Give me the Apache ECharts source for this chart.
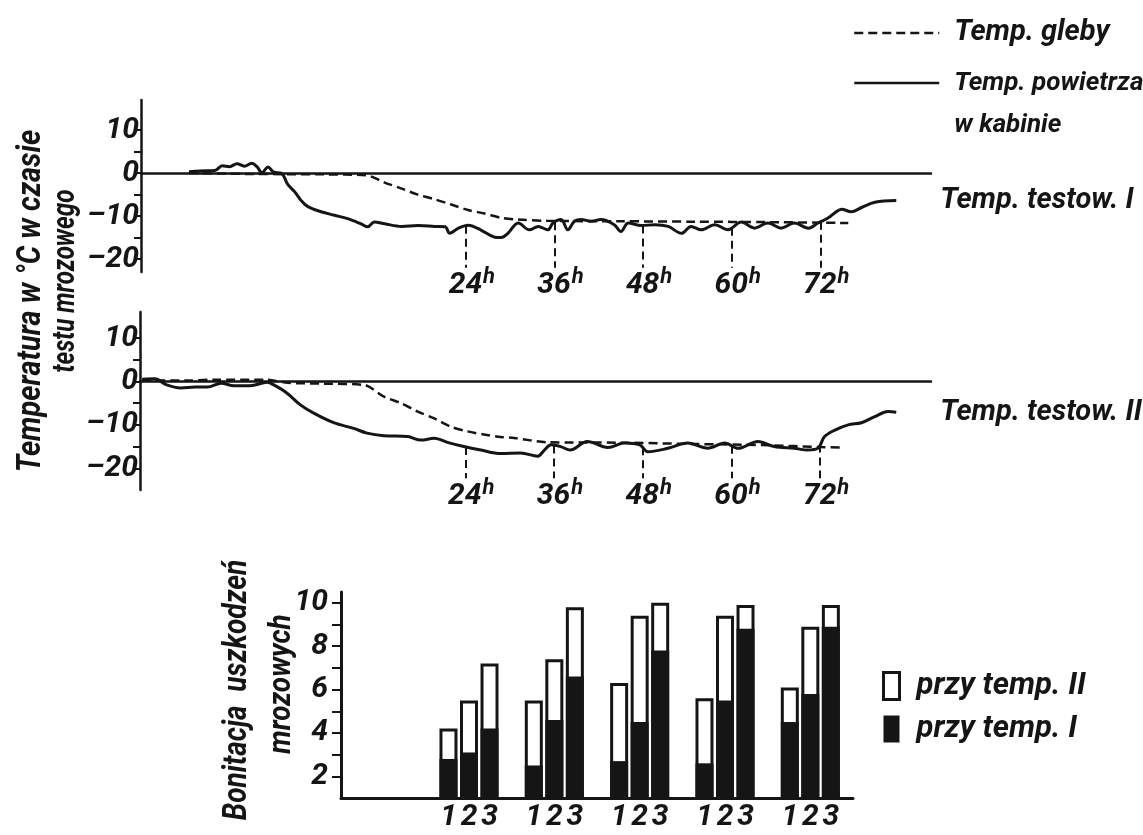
<!DOCTYPE html>
<html>
<head>
<meta charset="utf-8">
<script src="https://cdn.jsdelivr.net/npm/echarts@6/dist/echarts.min.js"></script>
<style>
  html, body { margin: 0; background: #fff; }
  #main { width: 1143px; height: 835px; }
</style>
</head>
<body>
<div id="main"></div>
<script>
var F = "Roboto, 'Liberation Sans', sans-serif";
var INK = '#151515';

// test I: [godzina, temp °C]
var airI = [[-13.5, 0.3], [-12, 0.5], [-10, 0.6], [-9, 1.7], [-8, 1.5], [-7, 2.2], [-6, 1.6], [-5, 2.3],
  [-4.3, 1.5], [-3.6, 0.1], [-2.8, 1.4], [-2, 0.2], [-1, 0], [-0.1, -2.7], [0.8, -4.3], [1.7, -6.4],
  [2.6, -7.8], [4.4, -9.0], [6.2, -9.8], [8.0, -10.6], [9.8, -11.8], [10.7, -12.5], [11.6, -11.4],
  [13.0, -11.8], [15.3, -12.4], [17.5, -12.2], [19.8, -12.4], [21.2, -12.5], [21.8, -14.0], [22.9, -12.9],
  [24.3, -12.1], [26.1, -13.3], [27.9, -14.9], [28.8, -15.0], [29.7, -14.0], [31.1, -11.6], [32.6, -13.2],
  [33.8, -12.4], [35.1, -13.2], [35.8, -11.6], [36.9, -10.8], [37.8, -13.2], [38.7, -11.2], [39.6, -10.8],
  [41, -11.2], [42.3, -10.8], [44.1, -12], [45.0, -13.6], [46.0, -11.6], [47.8, -12.2], [49.6, -12],
  [51.4, -12.4], [53.2, -14], [54.5, -12.4], [55.9, -13.2], [57.7, -12], [59.5, -13.2], [61.3, -11.4],
  [63.1, -12.8], [64.9, -11.6], [66.7, -12.8], [68.5, -11.6], [70.4, -12.8], [71.7, -11.6], [73.1, -10.4],
  [74.0, -9.2], [74.9, -8.4], [76.2, -9], [77.6, -8], [79.4, -6.8], [82.3, -6.4]];
var soilI = [[-13.5, 0], [-5, -0.2], [5, -0.3], [10.5, -0.5], [13.0, -2.2], [15.3, -3.6], [17.5, -5.0],
  [19.8, -6.1], [22.0, -7.3], [24.3, -8.6], [26.5, -9.4], [28.8, -10.4], [31, -10.8], [35, -11.1],
  [45, -11.2], [55, -11.3], [65, -11.4], [75.8, -11.6]];

// test II
var airII = [[-19.7, 0.5], [-18, 0.6], [-16.4, -0.8], [-14.5, -1.5], [-12.5, -1.3], [-10.9, -1.3], [-9, -0.4],
  [-7.3, -1.0], [-5.1, -1.0], [-2.8, -0.2], [-1.9, -0.8], [-0.1, -2.7], [1.7, -5.4], [3.5, -7.3], [6.2, -9.5],
  [8.9, -10.8], [10.7, -11.9], [13.0, -12.5], [16.2, -12.7], [18.0, -13.5], [19.8, -13.1], [21.7, -14.1],
  [23.8, -15.0], [26.1, -15.8], [28.8, -16.6], [31.5, -16.5], [33.8, -17.2], [34.7, -15.8], [35.6, -14.6],
  [36.9, -15.0], [38.2, -15.8], [40.5, -13.8], [43.3, -15.2], [45.5, -14.2], [47.6, -14.6], [48.7, -16.2],
  [51.4, -15.4], [54.1, -14.2], [56.8, -15.4], [59.1, -14.2], [60.9, -15.4], [63.6, -13.8], [65.8, -15.0],
  [68.5, -15.4], [70.3, -15.8], [71.7, -15.4], [72.6, -12.7], [74.0, -11.2], [75.8, -10.0], [77.6, -9.5],
  [79.4, -8.1], [81.2, -6.9], [82.3, -7.1]];
var soilII = [[-19.7, 0.3], [-14, 0.2], [-10, 0.4], [-3, 0.4], [0, -0.3], [5, -0.5], [10.3, -0.8], [13.0, -3.5],
  [15.3, -5.0], [17.5, -6.9], [19.8, -8.5], [22.0, -10.4], [24.3, -11.5], [26.5, -12.2], [28.8, -12.8],
  [30.6, -13.0], [35.1, -14.0], [45, -14.1], [55, -14.4], [65, -14.7], [72, -15.1], [75.1, -15.2]];

var hourMarks = [24, 36, 48, 60, 72];
var tempTicks = [-20, -15, -10, -5, 0, 5, 10];
var tempLabels = [-20, -10, 0, 10];

// bonitacja uszkodzen: grupy (pierwsza pusta), slupki 1-3
var barGroups = ['0', '1', '2', '3', '4', '5'];
var barNums = ['1', '2', '3'];
var tempII_1 = ['-', 4.2, 5.5, 6.3, 5.6, 6.1];
var tempII_2 = ['-', 5.5, 7.4, 9.4, 9.4, 8.9];
var tempII_3 = ['-', 7.2, 9.8, 10.0, 9.9, 9.9];
var tempI_1 = ['-', 2.8, 2.5, 2.7, 2.6, 4.5];
var tempI_2 = ['-', 3.1, 4.6, 4.5, 5.5, 5.8];
var tempI_3 = ['-', 4.2, 6.6, 7.8, 8.8, 8.9];
var bonTicks = [2, 3, 4, 5, 6, 7, 8, 9, 10];
var bonLabels = [2, 4, 6, 8, 10];

function valueAt(pts, h) {
  for (var i = 0; i < pts.length - 1; i++) {
    if (pts[i][0] <= h && h <= pts[i + 1][0]) {
      var t = (h - pts[i][0]) / (pts[i + 1][0] - pts[i][0]);
      return pts[i][1] + t * (pts[i + 1][1] - pts[i][1]);
    }
  }
  return pts[pts.length - 1][1];
}

var txt = { fontFamily: F, fontStyle: 'italic', fontWeight: 'bold', color: INK };

function tempYAxis(grid, min, max) {
  return {
    type: 'value', gridIndex: grid, min: min, max: max,
    axisLine: { show: true, onZero: false, lineStyle: { color: INK, width: 2.5 } },
    axisTick: { show: true, customValues: tempTicks, length: 7, lineStyle: { color: INK, width: 2 } },
    axisLabel: Object.assign({
      customValues: tempLabels, fontSize: 30, margin: 2,
      formatter: function (v) { return v < 0 ? '–' + (-v) : String(v); }
    }, txt),
    splitLine: { show: false }
  };
}

function hourXAxis(grid) {
  return {
    type: 'value', gridIndex: grid, min: -20, max: 87,
    axisLine: { show: true, onZero: true, lineStyle: { color: INK, width: 2.5 } },
    axisTick: { show: false }, axisLabel: { show: false }, splitLine: { show: false }
  };
}

function dropLines(pts, endVal) {
  return {
    symbol: 'none', silent: true, animation: false,
    lineStyle: { type: [8, 5], width: 2, color: INK },
    label: {
      show: true, position: 'end', distance: 0, offset: [6, -1],
      formatter: function (p) { return '{n|' + hourMarks[p.dataIndex] + '}{h|h}'; },
      rich: {
        n: Object.assign({ fontSize: 30 }, txt),
        h: Object.assign({ fontSize: 22, padding: [0, 0, 16, 1] }, txt)
      }
    },
    data: hourMarks.map(function (h) {
      return [{ coord: [h, valueAt(pts, h)] }, { coord: [h, endVal] }];
    })
  };
}

function airSeries(pts, grid, name, endText, endVal) {
  return {
    name: name, type: 'line', xAxisIndex: grid, yAxisIndex: grid, data: pts,
    symbol: 'none', smooth: 0.35, clip: false, z: 3,
    itemStyle: { color: INK },
    lineStyle: { color: INK, width: 3 },
    endLabel: Object.assign({ show: true, formatter: endText, distance: 44, fontSize: 29 }, txt),
    markLine: dropLines(pts, endVal)
  };
}

function soilSeries(pts, grid, name) {
  return {
    name: name, type: 'line', xAxisIndex: grid, yAxisIndex: grid, data: pts,
    symbol: 'none', smooth: 0.3, clip: false, z: 2,
    itemStyle: { color: INK },
    lineStyle: { color: INK, width: 2.5, type: [9, 5] }
  };
}

function barSeries(name, data, xIdx, fill, border, z) {
  return {
    name: name, type: 'bar', xAxisIndex: xIdx, yAxisIndex: 2, data: data,
    barWidth: 18, barGap: '14%', z: z,
    itemStyle: { color: fill, borderColor: INK, borderWidth: border }
  };
}

function vTitle(text, x, y, size, sx) {
  return {
    type: 'text', x: x, y: y, rotation: Math.PI / 2, scaleX: sx,
    style: { text: text, fontSize: size, align: 'center', verticalAlign: 'middle', fill: INK,
      fontFamily: F, fontStyle: 'italic', fontWeight: 'bold' }
  };
}

var chart = echarts.init(document.getElementById('main'), null, { renderer: 'canvas' });

var lineLegend = {
  padding: 0, orient: 'vertical', itemWidth: 85, itemHeight: 14,
  itemStyle: { color: 'transparent', borderWidth: 0 },
  lineStyle: { width: 2.5 }
};

var option = {
  animation: false,
  backgroundColor: '#fff',
  grid: [
    { left: 141, top: 100, width: 790, height: 172 },
    { left: 140, top: 312, width: 791, height: 178 },
    { left: 341, top: 592, width: 512, height: 206 }
  ],
  xAxis: [
    hourXAxis(0),
    hourXAxis(1),
    {
      type: 'category', gridIndex: 2, data: barGroups,
      axisLine: { show: true, lineStyle: { color: INK, width: 3 } },
      axisTick: { show: false },
      axisLabel: {
        margin: 4, interval: 0,
        formatter: function (v, i) {
          return i === 0 ? '' : barNums.map(function (n) { return '{d|' + n + '}'; }).join('');
        },
        rich: { d: Object.assign({ fontSize: 30, width: 20.5, align: 'center' }, txt) }
      }
    },
    { type: 'category', gridIndex: 2, data: barGroups, show: false }
  ],
  yAxis: [
    tempYAxis(0, -23, 17),
    tempYAxis(1, -25, 16),
    {
      type: 'value', gridIndex: 2, min: 1, max: 10.5,
      axisLine: { show: true, onZero: false, lineStyle: { color: INK, width: 3 } },
      axisTick: { show: true, customValues: bonTicks, length: 9, lineStyle: { color: INK, width: 2 } },
      axisLabel: Object.assign({ customValues: bonLabels, fontSize: 30, margin: 13 }, txt),
      splitLine: { show: false }
    }
  ],
  legend: [
    Object.assign({
      left: 853, top: 15, data: ['Temp. gleby'],
      textStyle: Object.assign({ fontSize: 29, lineHeight: 36, padding: [0, 0, 0, 10] }, txt)
    }, lineLegend),
    Object.assign({
      left: 853, top: 20, data: ['Temp. powietrza w kabinie'],
      formatter: function () { return '\nTemp. powietrza\nw kabinie'; },
      textStyle: Object.assign({ fontSize: 26, lineHeight: 42, padding: [0, 0, 0, 10] }, txt)
    }, lineLegend),
    {
      left: 882, top: 668, padding: 0, orient: 'vertical', itemWidth: 16, itemHeight: 27, itemGap: 7,
      data: [
        { name: 'przy temp. II', icon: 'rect', itemStyle: { color: '#fff', borderColor: INK, borderWidth: 3 } },
        { name: 'przy temp. I', icon: 'rect', itemStyle: { color: INK, borderWidth: 0 } }
      ],
      textStyle: Object.assign({ fontSize: 31, lineHeight: 36, padding: [0, 0, 0, 12] }, txt)
    }
  ],
  graphic: [
    vTitle('Temperatura w °C w czasie', 32, 301, 33, 0.88),
    vTitle('testu mrozowego', 66, 281, 31, 0.78),
    vTitle('Bonitacja  uszkodzeń', 238, 690, 33, 0.85),
    vTitle('mrozowych', 282, 684, 31, 0.9)
  ],
  series: [
    soilSeries(soilI, 0, 'Temp. gleby'),
    airSeries(airI, 0, 'Temp. powietrza w kabinie', 'Temp. testow. I', -22),
    soilSeries(soilII, 1, 'Temp. gleby'),
    airSeries(airII, 1, 'Temp. powietrza w kabinie', 'Temp. testow. II', -22.3),
    barSeries('przy temp. II', tempII_1, 2, '#fff', 3, 2),
    barSeries('przy temp. II', tempII_2, 2, '#fff', 3, 2),
    barSeries('przy temp. II', tempII_3, 2, '#fff', 3, 2),
    barSeries('przy temp. I', tempI_1, 3, INK, 0, 3),
    barSeries('przy temp. I', tempI_2, 3, INK, 0, 3),
    barSeries('przy temp. I', tempI_3, 3, INK, 0, 3)
  ]
};

chart.setOption(option);
</script>
</body>
</html>
